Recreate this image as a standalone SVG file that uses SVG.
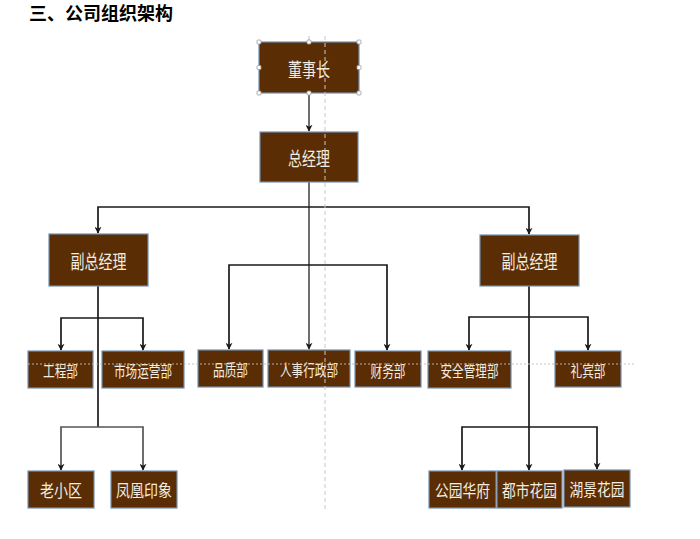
<svg xmlns="http://www.w3.org/2000/svg" width="700" height="539" viewBox="0 0 700 539">
<defs>
<style>
.box{fill:#5a2d05;stroke:#7290b0;stroke-width:1.2}
.lbl{font-family:"Noto Sans CJK SC","Noto Sans",sans-serif;fill:#f4ede2;text-anchor:middle;dominant-baseline:central}
.big{font-size:19px}
.sm{font-size:16px}
.bot{font-size:16.5px}
.ln{fill:none;stroke:#1a1a1a;stroke-width:1.7}
.gl{fill:none;stroke:#555;stroke-width:1.7}
.hd{fill:#fff;stroke:#9a9a9a;stroke-width:0.8}
.title{font-family:"Noto Sans CJK SC","Noto Sans",sans-serif;font-size:18px;font-weight:bold;fill:#000}
</style>
<marker id="ar" viewBox="0 0 10 10" refX="9" refY="5" markerWidth="7" markerHeight="7" markerUnits="userSpaceOnUse" orient="auto">
<path d="M0,0 L10,5 L0,10 L3,5 Z" fill="#1a1a1a"/>
</marker>
</defs>
<rect width="700" height="539" fill="#fff"/>
<text class="title" x="29" y="20">三、公司组织架构</text>

<g id="connectors">
<path class="gl" d="M309 93 V131" marker-end="url(#ar)"/>
<path class="gl" d="M309 182 V349" marker-end="url(#ar)"/>
<path class="ln" d="M309 207 H98 V233" marker-end="url(#ar)"/>
<path class="ln" d="M309 207 H529 V234" marker-end="url(#ar)"/>
<path class="ln" d="M309 265 H229 V349" marker-end="url(#ar)"/>
<path class="ln" d="M309 265 H387 V350" marker-end="url(#ar)"/>
<path class="ln" d="M98 286 V427"/>
<path class="ln" d="M98 318 H61 V350" marker-end="url(#ar)"/>
<path class="ln" d="M98 318 H143 V350" marker-end="url(#ar)"/>
<path class="gl" d="M98 427 H61 V470" marker-end="url(#ar)"/>
<path class="gl" d="M98 427 H143 V470" marker-end="url(#ar)"/>
<path class="ln" d="M529 286 V470" marker-end="url(#ar)"/>
<path class="ln" d="M529 317 H469 V350" marker-end="url(#ar)"/>
<path class="ln" d="M529 317 H588 V350" marker-end="url(#ar)"/>
<path class="ln" d="M529 427 H462 V470" marker-end="url(#ar)"/>
<path class="ln" d="M529 427 H597 V469" marker-end="url(#ar)"/>
</g>

<g id="n-chairman">
<rect class="box" x="259" y="42" width="100" height="51"/>
<text class="lbl big" x="309" y="68" textLength="42" lengthAdjust="spacingAndGlyphs">董事长</text>
</g>
<g id="n-gm">
<rect class="box" x="260" y="132" width="98" height="50"/>
<text class="lbl big" x="309" y="157" textLength="42" lengthAdjust="spacingAndGlyphs">总经理</text>
</g>
<g id="n-vgm-left">
<rect class="box" x="49" y="234" width="99" height="52"/>
<text class="lbl big" x="98.5" y="260" textLength="56" lengthAdjust="spacingAndGlyphs">副总经理</text>
</g>
<g id="n-vgm-right">
<rect class="box" x="480" y="235" width="99" height="51"/>
<text class="lbl big" x="529.5" y="260" textLength="56" lengthAdjust="spacingAndGlyphs">副总经理</text>
</g>
<g id="n-eng">
<rect class="box" x="28" y="351" width="65" height="37"/>
<text class="lbl sm" x="60.5" y="370" textLength="35" lengthAdjust="spacingAndGlyphs">工程部</text>
</g>
<g id="n-mkt">
<rect class="box" x="102" y="351" width="82" height="37"/>
<text class="lbl sm" x="143" y="370" textLength="58" lengthAdjust="spacingAndGlyphs">市场运营部</text>
</g>
<g id="n-qa">
<rect class="box" x="198" y="350" width="65" height="37"/>
<text class="lbl sm" x="230.5" y="369" textLength="35" lengthAdjust="spacingAndGlyphs">品质部</text>
</g>
<g id="n-hr">
<rect class="box" x="268" y="350" width="82" height="37"/>
<text class="lbl sm" x="309" y="369" textLength="58" lengthAdjust="spacingAndGlyphs">人事行政部</text>
</g>
<g id="n-fin">
<rect class="box" x="355" y="351" width="66" height="36"/>
<text class="lbl sm" x="388" y="369.5" textLength="35" lengthAdjust="spacingAndGlyphs">财务部</text>
</g>
<g id="n-safety">
<rect class="box" x="428" y="351" width="83" height="37"/>
<text class="lbl sm" x="469.5" y="370" textLength="58" lengthAdjust="spacingAndGlyphs">安全管理部</text>
</g>
<g id="n-reception">
<rect class="box" x="555" y="351" width="66" height="36"/>
<text class="lbl sm" x="588" y="369.5" textLength="35" lengthAdjust="spacingAndGlyphs">礼宾部</text>
</g>
<g id="n-lxq">
<rect class="box" x="28" y="471" width="66" height="37"/>
<text class="lbl bot" x="61" y="489.5" textLength="42" lengthAdjust="spacingAndGlyphs">老小区</text>
</g>
<g id="n-fhyx">
<rect class="box" x="111" y="471" width="66" height="37"/>
<text class="lbl bot" x="144" y="489.5" textLength="56" lengthAdjust="spacingAndGlyphs">凤凰印象</text>
</g>
<g id="n-gyhf">
<rect class="box" x="429" y="471" width="67" height="37"/>
<text class="lbl bot" x="462.5" y="489.5" textLength="55" lengthAdjust="spacingAndGlyphs">公园华府</text>
</g>
<g id="n-dshy">
<rect class="box" x="497" y="471" width="65" height="37"/>
<text class="lbl bot" x="529.5" y="489.5" textLength="55" lengthAdjust="spacingAndGlyphs">都市花园</text>
</g>
<g id="n-hjhy">
<rect class="box" x="564" y="470" width="66" height="37"/>
<text class="lbl bot" x="597" y="488.5" textLength="55" lengthAdjust="spacingAndGlyphs">湖景花园</text>
</g>

<g id="guides">
<line x1="325" y1="36" x2="325" y2="510" stroke="#c8c8c8" stroke-width="1" stroke-dasharray="4,3"/>
<line x1="28" y1="364" x2="636" y2="364" stroke="#c0c0c0" stroke-width="1.2" stroke-dasharray="2,2" opacity="0.9"/>
<line x1="309" y1="36" x2="309" y2="42" stroke="#aaa" stroke-width="0.8"/>
</g>
<g id="handles">
<rect class="hd" x="257" y="40" width="4" height="4" rx="1"/>
<rect class="hd" x="307" y="40" width="4" height="4" rx="1"/>
<rect class="hd" x="357" y="40" width="4" height="4" rx="1"/>
<rect class="hd" x="257" y="65.5" width="4" height="4" rx="1"/>
<rect class="hd" x="357" y="65.5" width="4" height="4" rx="1"/>
<rect class="hd" x="257" y="91" width="4" height="4" rx="1"/>
<rect class="hd" x="307" y="91" width="4" height="4" rx="1"/>
<rect class="hd" x="357" y="91" width="4" height="4" rx="1"/>
</g>
</svg>
